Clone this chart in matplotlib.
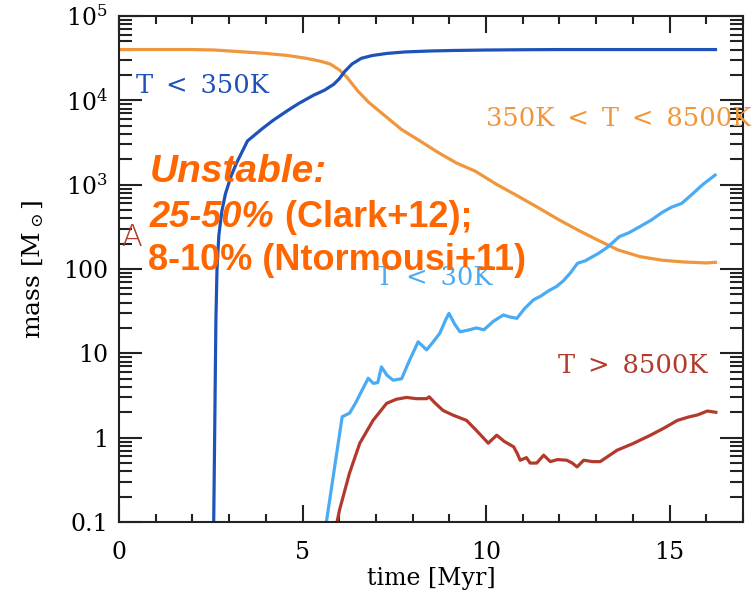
import numpy as np
import matplotlib
matplotlib.use("Agg")
import matplotlib.pyplot as plt
from matplotlib.ticker import FixedLocator, FixedFormatter, NullFormatter

# gas mass per temperature phase vs time
t_warm = [0, 1, 2, 2.6, 3.2, 4.0, 4.6, 5.1, 5.5, 5.75, 6.0, 6.2, 6.5, 6.8, 7.2, 7.7,
          8.2, 8.7, 9.2, 9.7, 10.3, 10.8, 11.4, 12.0, 12.5, 13.0, 13.6, 14.2, 14.8,
          15.4, 16.0, 16.25]
m_warm = [4.0e4, 4.0e4, 4.0e4, 3.95e4, 3.8e4, 3.6e4, 3.4e4, 3.15e4, 2.9e4, 2.7e4,
          2.3e4, 1.9e4, 1.3e4, 9.5e3, 6.8e3, 4.5e3, 3.3e3, 2.4e3, 1.8e3, 1.45e3,
          1.0e3, 760, 540, 380, 290, 225, 168, 140, 127, 121, 118, 120]

t_cold = [2.58, 2.60, 2.62, 2.64, 2.67, 2.72, 2.8, 2.9, 3.05, 3.2, 3.5, 3.9, 4.2,
          4.6, 4.9, 5.3, 5.6, 5.85, 6.0, 6.15, 6.35, 6.6, 6.9, 7.3, 7.8, 8.5, 9.1,
          10, 11, 12, 13, 14, 15, 16.25]
m_cold = [0.1, 0.6, 4, 25, 100, 250, 480, 780, 1250, 1800, 3300, 4600, 5800, 7600,
          9200, 11500, 13200, 15500, 18000, 22000, 27000, 31500, 34000, 36000,
          37500, 38500, 39000, 39500, 39800, 40000, 40000, 40000, 40000, 40000]

t_vcold = [5.65, 6.08, 6.28, 6.45, 6.6, 6.79, 6.93, 7.05, 7.15, 7.3, 7.47, 7.7,
           7.9, 8.15, 8.38, 8.55, 8.74, 8.9, 8.99, 9.15, 9.29, 9.5, 9.74, 9.94,
           10.2, 10.47, 10.65, 10.84, 11.05, 11.29, 11.5, 11.7, 11.92, 12.1, 12.3,
           12.49, 12.7, 13.06, 13.3, 13.63, 13.9, 14.19, 14.5, 14.8, 15.05, 15.33,
           15.6, 15.9, 16.24]
m_vcold = [0.1, 1.77, 1.95, 2.6, 3.5, 5.06, 4.4, 4.5, 6.9, 5.5, 4.8, 5.0, 8.0,
           13.7, 11.0, 13.5, 17.3, 25, 29.8, 22, 18.0, 18.8, 20, 19, 24, 28.5, 27,
           26, 34, 43, 48, 55, 62, 72, 90, 117, 125, 153, 180, 242, 270, 318, 380,
           470, 540, 600, 760, 1000, 1300]

t_hot = [5.94, 6.01, 6.28, 6.56, 6.92, 7.29, 7.55, 7.83, 8.1, 8.38, 8.45, 8.6,
         8.83, 9.1, 9.47, 9.75, 10.06, 10.29, 10.5, 10.75, 10.85, 10.93, 11.1,
         11.2, 11.38, 11.57, 11.75, 11.95, 12.2, 12.35, 12.48, 12.66, 12.9, 13.11,
         13.57, 14.0, 14.48, 14.85, 15.21, 15.5, 15.76, 16.03, 16.26]
m_hot = [0.1, 0.14, 0.38, 0.86, 1.6, 2.55, 2.85, 3.0, 2.9, 2.9, 3.05, 2.6, 2.1,
         1.85, 1.6, 1.2, 0.86, 1.07, 0.9, 0.78, 0.65, 0.54, 0.58, 0.5, 0.5, 0.62,
         0.52, 0.55, 0.54, 0.5, 0.45, 0.54, 0.52, 0.52, 0.71, 0.85, 1.07, 1.3, 1.6,
         1.75, 1.86, 2.07, 2.0]

x_ticks = [0, 5, 10, 15]
x_ticklabels = ["0", "5", "10", "15"]
y_ticks = [0.1, 1, 10, 100, 1e3, 1e4, 1e5]
y_ticklabels = ["0.1", "1", "10", "100", r"$10^3$", r"$10^4$", r"$10^5$"]

c_warm = "#f0963c"
c_cold = "#1f52b8"
c_vcold = "#4aabf5"
c_hot = "#b23a2c"
c_note = "#ff6600"

plt.rcParams["font.family"] = ["DejaVu Serif", "DejaVu Sans"]
plt.rcParams["mathtext.fontset"] = "dejavuserif"

W, H = 751, 603
fig = plt.figure(figsize=(W / 100, H / 100), dpi=100)
ax = fig.add_axes([119 / W, 1 - 522 / H, (743 - 119) / W, (522 - 16) / H])

lw = 2.3
ax.plot(t_warm, m_warm, color=c_warm, lw=lw)
ax.plot(t_cold, m_cold, color=c_cold, lw=lw)
ax.plot(t_vcold, m_vcold, color=c_vcold, lw=lw)
ax.plot(t_hot, m_hot, color=c_hot, lw=lw)

ax.set_yscale("log")
ax.set_xlim(0, 17)
ax.set_ylim(0.1, 1e5)

# minor ticks: every Myr on x, 2..9 per decade on y
x_minor = [v for v in range(0, 18) if v % 5 != 0]
y_minor = [m * 10.0 ** e for e in range(-1, 5) for m in range(2, 10)]

ax.xaxis.set_major_locator(FixedLocator(x_ticks))
ax.xaxis.set_major_formatter(FixedFormatter(x_ticklabels))
ax.xaxis.set_minor_locator(FixedLocator(x_minor))
ax.xaxis.set_minor_formatter(NullFormatter())
ax.yaxis.set_major_locator(FixedLocator(y_ticks))
ax.yaxis.set_major_formatter(FixedFormatter(y_ticklabels))
ax.yaxis.set_minor_locator(FixedLocator(y_minor))
ax.yaxis.set_minor_formatter(NullFormatter())

ax.tick_params(which="both", direction="in", top=True, right=True, width=1.5,
               labelsize=17, color="#222222")
ax.tick_params(axis="x", which="major", length=12.5, pad=14)
ax.tick_params(axis="x", which="minor", length=6)
ax.tick_params(axis="y", which="major", length=16.5, pad=8)
ax.tick_params(axis="y", which="minor", length=9.5)
for s in ax.spines.values():
    s.set_linewidth(1.5)
    s.set_color("#222222")

ax.set_xlabel("time [Myr]", fontsize=17, labelpad=2)
ax.set_ylabel(r"mass [M$_\odot$]", fontsize=18, labelpad=12)

# phase labels (en spaces for the wide IDL-style spacing)
sp = "\u2002"
ax.text(0.46, 10 ** 4.18, f"T{sp}<{sp}350K", color=c_cold, fontsize=18.5, va="center")
ax.text(10.0, 10 ** 3.79, f"350K{sp}<{sp}T{sp}<{sp}8500K", color=c_warm,
        fontsize=18.5, va="center")
ax.text(7.0, 10 ** 1.9, f"T{sp}<{sp}30K", color=c_vcold, fontsize=18.5, va="center",
        zorder=1)
ax.text(11.95, 10 ** 0.85, f"T{sp}>{sp}8500K", color=c_hot, fontsize=18.5,
        va="center")
ax.text(0.05, 10 ** 2.37, "A", color=c_hot, fontsize=22, va="center",
        fontfamily="DejaVu Sans", fontweight="light")

# note on unstable fraction
note = dict(color=c_note, fontfamily="Liberation Sans", fontweight="bold", zorder=5)
fig.text(150 / W, 1 - 182 / H, "Unstable:", fontsize=28, style="italic", **note)
t1 = fig.text(150 / W, 1 - 227 / H, "25-50%", fontsize=26, style="italic", **note)
fig.canvas.draw()
x1 = t1.get_window_extent().x1
fig.text(x1 / W, 1 - 227 / H, " (Clark+12);", fontsize=26, **note)
fig.text(148 / W, 1 - 270 / H, "8-10% (Ntormousi+11)", fontsize=26, **note)

fig.savefig("out.png", dpi=100)
